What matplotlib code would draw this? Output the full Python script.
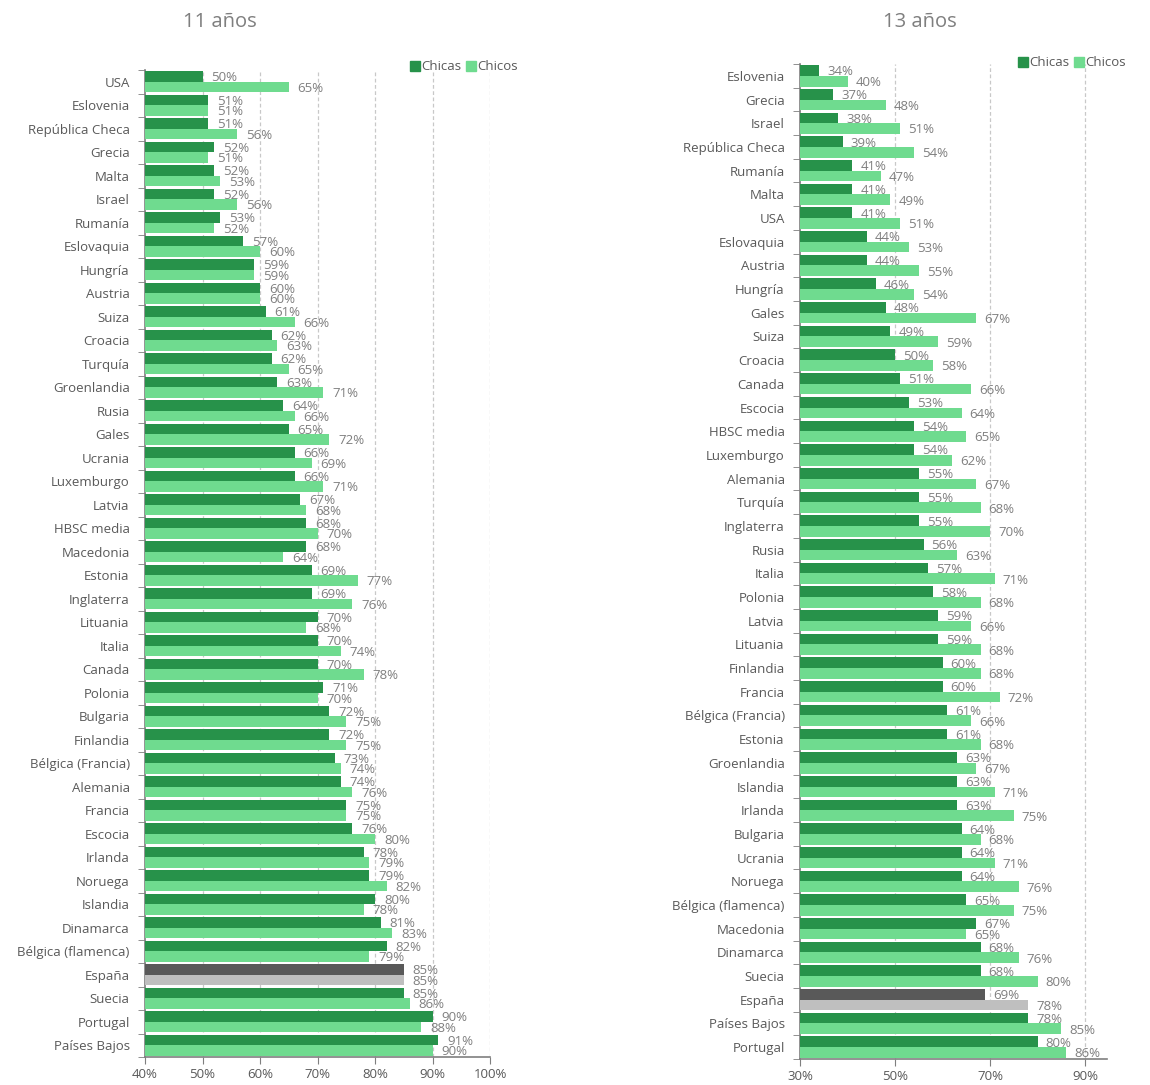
import matplotlib
matplotlib.use("Agg")
import matplotlib.pyplot as plt
from matplotlib.patches import Patch
import numpy as np

plt.rcParams['font.family'] = ['Open Sans', 'DejaVu Sans']

# 11 años
paises_11 = ["USA", "Eslovenia", "República Checa", "Grecia", "Malta", "Israel",
             "Rumanía", "Eslovaquia", "Hungría", "Austria", "Suiza", "Croacia",
             "Turquía", "Groenlandia", "Rusia", "Gales", "Ucrania", "Luxemburgo",
             "Latvia", "HBSC media", "Macedonia", "Estonia", "Inglaterra", "Lituania",
             "Italia", "Canada", "Polonia", "Bulgaria", "Finlandia", "Bélgica (Francia)",
             "Alemania", "Francia", "Escocia", "Irlanda", "Noruega", "Islandia",
             "Dinamarca", "Bélgica (flamenca)", "España", "Suecia", "Portugal",
             "Países Bajos"]
chicas_11 = [50, 51, 51, 52, 52, 52, 53, 57, 59, 60, 61, 62, 62, 63, 64, 65, 66, 66,
             67, 68, 68, 69, 69, 70, 70, 70, 71, 72, 72, 73, 74, 75, 76, 78, 79, 80,
             81, 82, 85, 85, 90, 91]
chicos_11 = [65, 51, 56, 51, 53, 56, 52, 60, 59, 60, 66, 63, 65, 71, 66, 72, 69, 71,
             68, 70, 64, 77, 76, 68, 74, 78, 70, 75, 75, 74, 76, 75, 80, 79, 82, 78,
             83, 79, 85, 86, 88, 90]

# 13 años
paises_13 = ["Eslovenia", "Grecia", "Israel", "República Checa", "Rumanía", "Malta",
             "USA", "Eslovaquia", "Austria", "Hungría", "Gales", "Suiza", "Croacia",
             "Canada", "Escocia", "HBSC media", "Luxemburgo", "Alemania", "Turquía",
             "Inglaterra", "Rusia", "Italia", "Polonia", "Latvia", "Lituania",
             "Finlandia", "Francia", "Bélgica (Francia)", "Estonia", "Groenlandia",
             "Islandia", "Irlanda", "Bulgaria", "Ucrania", "Noruega",
             "Bélgica (flamenca)", "Macedonia", "Dinamarca", "Suecia", "España",
             "Países Bajos", "Portugal"]
chicas_13 = [34, 37, 38, 39, 41, 41, 41, 44, 44, 46, 48, 49, 50, 51, 53, 54, 54, 55,
             55, 55, 56, 57, 58, 59, 59, 60, 60, 61, 61, 63, 63, 63, 64, 64, 64, 65,
             67, 68, 68, 69, 78, 80]
chicos_13 = [40, 48, 51, 54, 47, 49, 51, 53, 55, 54, 67, 59, 58, 66, 64, 65, 62, 67,
             68, 70, 63, 71, 68, 66, 68, 68, 72, 66, 68, 67, 71, 75, 68, 71, 76, 75,
             65, 76, 80, 78, 85, 86]

VERDE_OSC = "#27924a"
VERDE_CLA = "#6fdb8f"
GRIS_OSC = "#595959"
GRIS_CLA = "#bfbfbf"
TXT = "#595959"
TXT_LBL = "#7f7f7f"


def panel(ax, paises, chicas, chicos, xmin, xmax, ticks, titulo, ttl_x, leg_pos):
    n = len(paises)
    y = np.arange(n)
    h = 0.45
    c1 = [GRIS_OSC if p == "España" else VERDE_OSC for p in paises]
    c2 = [GRIS_CLA if p == "España" else VERDE_CLA for p in paises]
    ax.barh(y - h / 2, chicas, height=h, color=c1, zorder=3)
    ax.barh(y + h / 2, chicos, height=h, color=c2, zorder=3)

    # etiquetas de datos
    span = xmax - xmin
    for i in range(n):
        ax.text(chicas[i] + span * 0.026, y[i] - h / 2 + 0.06, f"{chicas[i]}%",
                va="center", ha="left", fontsize=9.5, color=TXT_LBL, zorder=4)
        ax.text(chicos[i] + span * 0.026, y[i] + h / 2 + 0.06, f"{chicos[i]}%",
                va="center", ha="left", fontsize=9.5, color=TXT_LBL, zorder=4)

    ax.set_xlim(xmin, xmax)
    ax.set_ylim(n - 0.5, -0.5)
    ax.set_xticks(ticks)
    ax.set_xticklabels([f"{t}%" for t in ticks], fontsize=9.5, color=TXT)
    ax.set_yticks(y)
    ax.set_yticklabels(paises, fontsize=9.5, color=TXT)
    ax.set_yticks(np.arange(-0.5, n, 1), minor=True)
    ax.tick_params(axis="y", which="major", length=0, pad=11)
    ax.tick_params(axis="y", which="minor", length=5, color="#7f7f7f")
    ax.tick_params(axis="x", length=5, color="#7f7f7f", pad=3)
    for t in ticks[1:]:
        ax.axvline(t, color="#c8c8c8", lw=0.9, ls=(0, (3, 2)), zorder=1)
    for s in ["top", "right"]:
        ax.spines[s].set_visible(False)
    for s in ["left", "bottom"]:
        ax.spines[s].set_color("#7f7f7f")
        ax.spines[s].set_linewidth(1.2)

    fig.text(ttl_x, 0.98, titulo, ha="center", va="center", fontsize=14.5,
             color=TXT_LBL)
    handles = [Patch(color=VERDE_OSC, label="Chicas"),
               Patch(color=VERDE_CLA, label="Chicos")]
    fig.legend(handles=handles, loc="center left", bbox_to_anchor=leg_pos,
               ncol=2, frameon=False, fontsize=9.5, handlelength=0.8,
               handleheight=0.8, handletextpad=0.1, columnspacing=0.3,
               labelcolor=TXT)


fig = plt.figure(figsize=(11.5, 10.85), dpi=100)
ax1 = fig.add_axes([145 / 1150, 1 - 1057 / 1085, 345 / 1150, 987 / 1085])
ax2 = fig.add_axes([800 / 1150, 1 - 1059 / 1085, 307 / 1150, 995 / 1085])

panel(ax1, paises_11, chicas_11, chicos_11, 40, 100,
      [40, 50, 60, 70, 80, 90, 100], "11 años", 220 / 1150, (398 / 1150, 1 - 67 / 1085))
panel(ax2, paises_13, chicas_13, chicos_13, 30, 94.6,
      [30, 50, 70, 90], "13 años", 920 / 1150, (1006 / 1150, 1 - 63 / 1085))

fig.savefig("out.png", dpi=100)
